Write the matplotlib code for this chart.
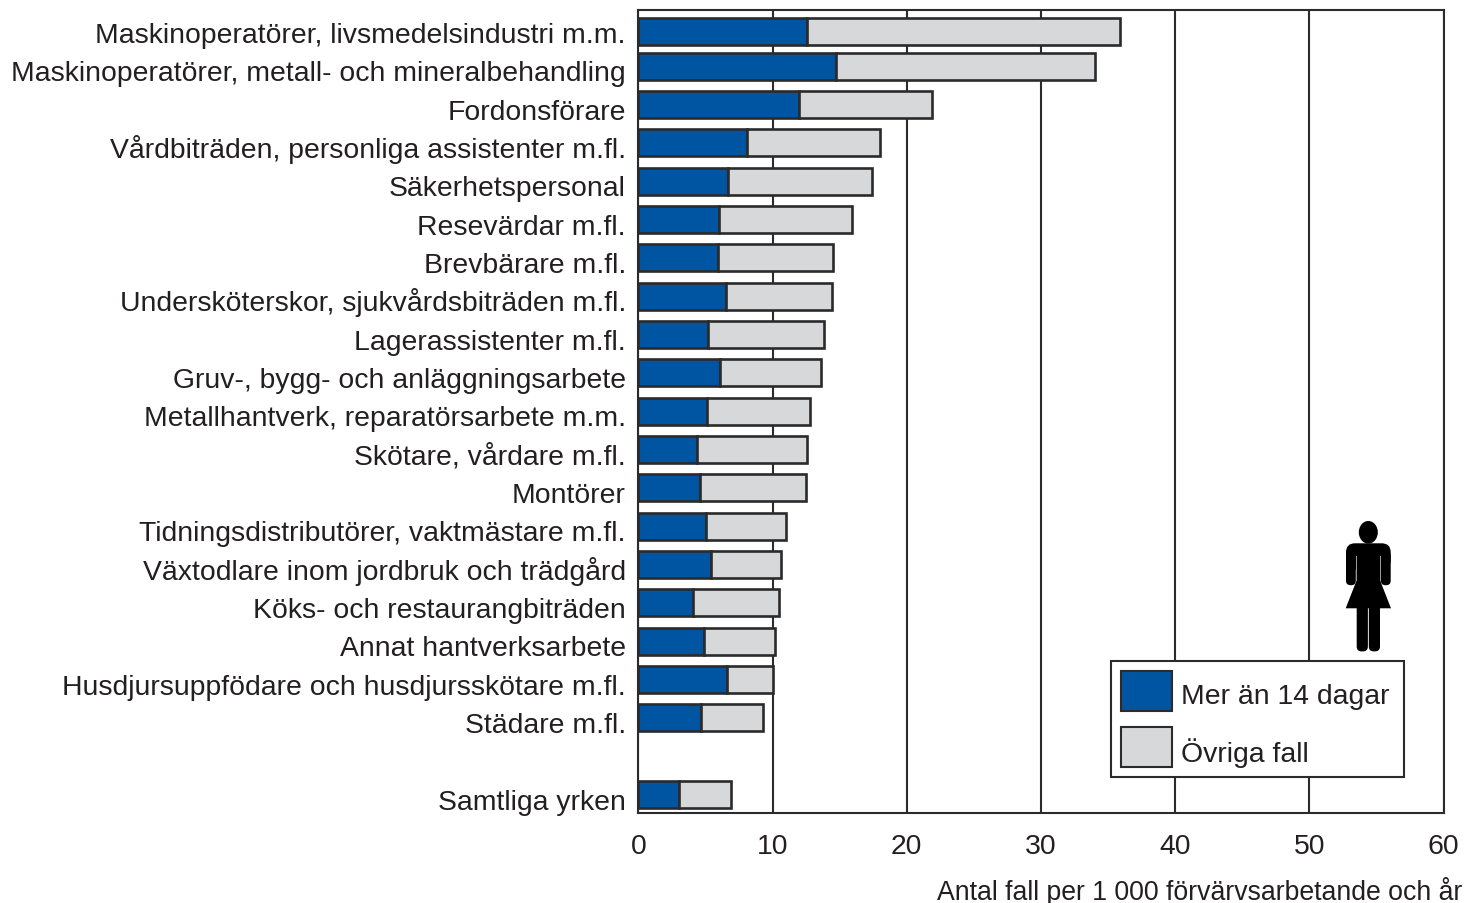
import numpy as np
import matplotlib
matplotlib.use("Agg")
import matplotlib.pyplot as plt
from matplotlib.patches import Ellipse, FancyBboxPatch, Polygon, Rectangle
from matplotlib.transforms import Affine2D, ScaledTranslation

plt.rcParams['font.family'] = ['Liberation Sans', 'DejaVu Sans']

occupations = [
    "Maskinoperatörer, livsmedelsindustri m.m.",
    "Maskinoperatörer, metall- och mineralbehandling",
    "Fordonsförare",
    "Vårdbiträden, personliga assistenter m.fl.",
    "Säkerhetspersonal",
    "Resevärdar m.fl.",
    "Brevbärare m.fl.",
    "Undersköterskor, sjukvårdsbiträden m.fl.",
    "Lagerassistenter m.fl.",
    "Gruv-, bygg- och anläggningsarbete",
    "Metallhantverk, reparatörsarbete m.m.",
    "Skötare, vårdare m.fl.",
    "Montörer",
    "Tidningsdistributörer, vaktmästare m.fl.",
    "Växtodlare inom jordbruk och trädgård",
    "Köks- och restaurangbiträden",
    "Annat hantverksarbete",
    "Husdjursuppfödare och husdjursskötare m.fl.",
    "Städare m.fl.",
    "Samtliga yrken",
]
over_14_days = [12.6, 14.7, 12.0, 8.1, 6.7, 6.0, 5.9, 6.5, 5.2, 6.1,
                5.1, 4.4, 4.6, 5.0, 5.4, 4.1, 4.9, 6.6, 4.7, 3.0]
totals = [35.9, 34.0, 21.9, 18.0, 17.4, 15.9, 14.5, 14.4, 13.8, 13.6,
          12.8, 12.6, 12.5, 11.0, 10.6, 10.5, 10.2, 10.0, 9.3, 6.9]
series_names = ["Mer än 14 dagar", "Övriga fall"]
x_ticks = [0, 10, 20, 30, 40, 50, 60]
x_title = "Antal fall per 1 000 förvärvsarbetande och år"

W, H = 1464, 904
BLUE, GREY, INK = "#0055a2", "#d7d8da", "#2b2b2b"
TEXT = "#231f20"
FS = 20.4
over = np.array(over_14_days)
rest = np.array(totals) - over

# row layout: one empty slot before the last row
label_rows = np.arange(len(occupations), dtype=float)
label_rows[-1] += 1
bar_rows = label_rows.copy()
bar_rows[0] += 0.1   # the top bar sits a little lower in the original

fig = plt.figure(figsize=(W / 100, H / 100), dpi=100, facecolor="white")
left, right, top, bottom = 638.4, 1443.6, 11, 814.3
ax = fig.add_axes([left / W, 1 - bottom / H, (right - left) / W, (bottom - top) / H])

step = 38.33                 # pixels per row
first = 795.5 - 20 * step    # pixel centre of row index 0
ax.set_ylim((bottom - first) / step, (top - first) / step)
ax.set_xlim(0, 60)

ax.set_axisbelow(True)
ax.xaxis.grid(True, color=INK, lw=1.5)
bar_h = 27 / step
b1 = ax.barh(bar_rows, over, height=bar_h, color=BLUE, edgecolor=INK, lw=1.9,
             label=series_names[0], zorder=3)
b2 = ax.barh(bar_rows, rest, left=over, height=bar_h, color=GREY, edgecolor=INK, lw=1.9,
             label=series_names[1], zorder=3)

ax.set_yticks(label_rows, occupations)
ax.set_xticks(x_ticks)
ax.tick_params(axis="both", length=0, labelsize=FS, labelcolor=TEXT)
ax.tick_params(axis="y", pad=9)
ax.tick_params(axis="x", pad=14.5)
shift = ScaledTranslation(0, -14.2 / 100, fig.dpi_scale_trans)
for lab in ax.get_yticklabels():
    lab.set_verticalalignment("baseline")
    lab.set_transform(lab.get_transform() + shift)
for s in ax.spines.values():
    s.set_color(INK)
    s.set_linewidth(1.5)

fig.text(1462 / W, 1 - 900.5 / H, x_title, ha="right", va="baseline",
         fontsize=19.17, color=TEXT)

fs_px = FS * 100 / 72
aw, ah = right - left, bottom - top
leg = ax.legend(handles=[b1, b2], loc="lower left", mode="expand",
                bbox_to_anchor=((1111 - left) / aw, (bottom - 778) / ah,
                                (1404 - 1111) / aw, (778 - 661) / ah),
                fontsize=FS, frameon=True, fancybox=False, framealpha=1,
                edgecolor=INK, facecolor="white", borderaxespad=0,
                borderpad=10 / fs_px, handlelength=51 / fs_px,
                handleheight=(40 / fs_px - 0.245) / 0.65,
                handletextpad=9 / fs_px, labelspacing=16 / fs_px, labelcolor=TEXT)
leg.get_frame().set_linewidth(1.5)
leg.set_zorder(5)
for h in leg.legend_handles:
    h.set_linewidth(1.5)
for t, dy in zip(leg.get_texts(), (-3, -4.5)):
    t.set_y(dy)

# woman pictogram, drawn in pixel coordinates from the top-left corner
px = Affine2D().scale(1, -1).translate(0, H)
def add(p):
    p.set_transform(px)
    p.set_clip_on(False)
    p.set_zorder(4)
    fig.add_artist(p)

k = dict(facecolor="black", edgecolor="none")
add(Ellipse((1368.3, 533.3), 19, 22.6, **k))
add(FancyBboxPatch((1346, 544.3), 44.7, 26, boxstyle="round,pad=0,rounding_size=9", **k))
add(FancyBboxPatch((1346, 552), 9.8, 34.2, boxstyle="round,pad=0,rounding_size=4.5", **k))
add(FancyBboxPatch((1380.9, 552), 9.8, 34.2, boxstyle="round,pad=0,rounding_size=4.5", **k))
add(Rectangle((1356.6, 552), 23.5, 40, **k))
add(Rectangle((1355.7, 556.7), 0.9, 27, facecolor="#9a9a9a", edgecolor="none"))
add(Rectangle((1380.1, 556.7), 0.9, 27, facecolor="#9a9a9a", edgecolor="none"))
add(Polygon([(1356.4, 582), (1380.3, 582), (1391, 609.3), (1345.7, 609.3)], closed=True, **k))
add(FancyBboxPatch((1356.7, 600), 11.2, 52.4, boxstyle="round,pad=0,rounding_size=5", **k))
add(FancyBboxPatch((1368.8, 600), 11.2, 52.4, boxstyle="round,pad=0,rounding_size=5", **k))

fig.savefig("out.png", dpi=100, facecolor="white")
